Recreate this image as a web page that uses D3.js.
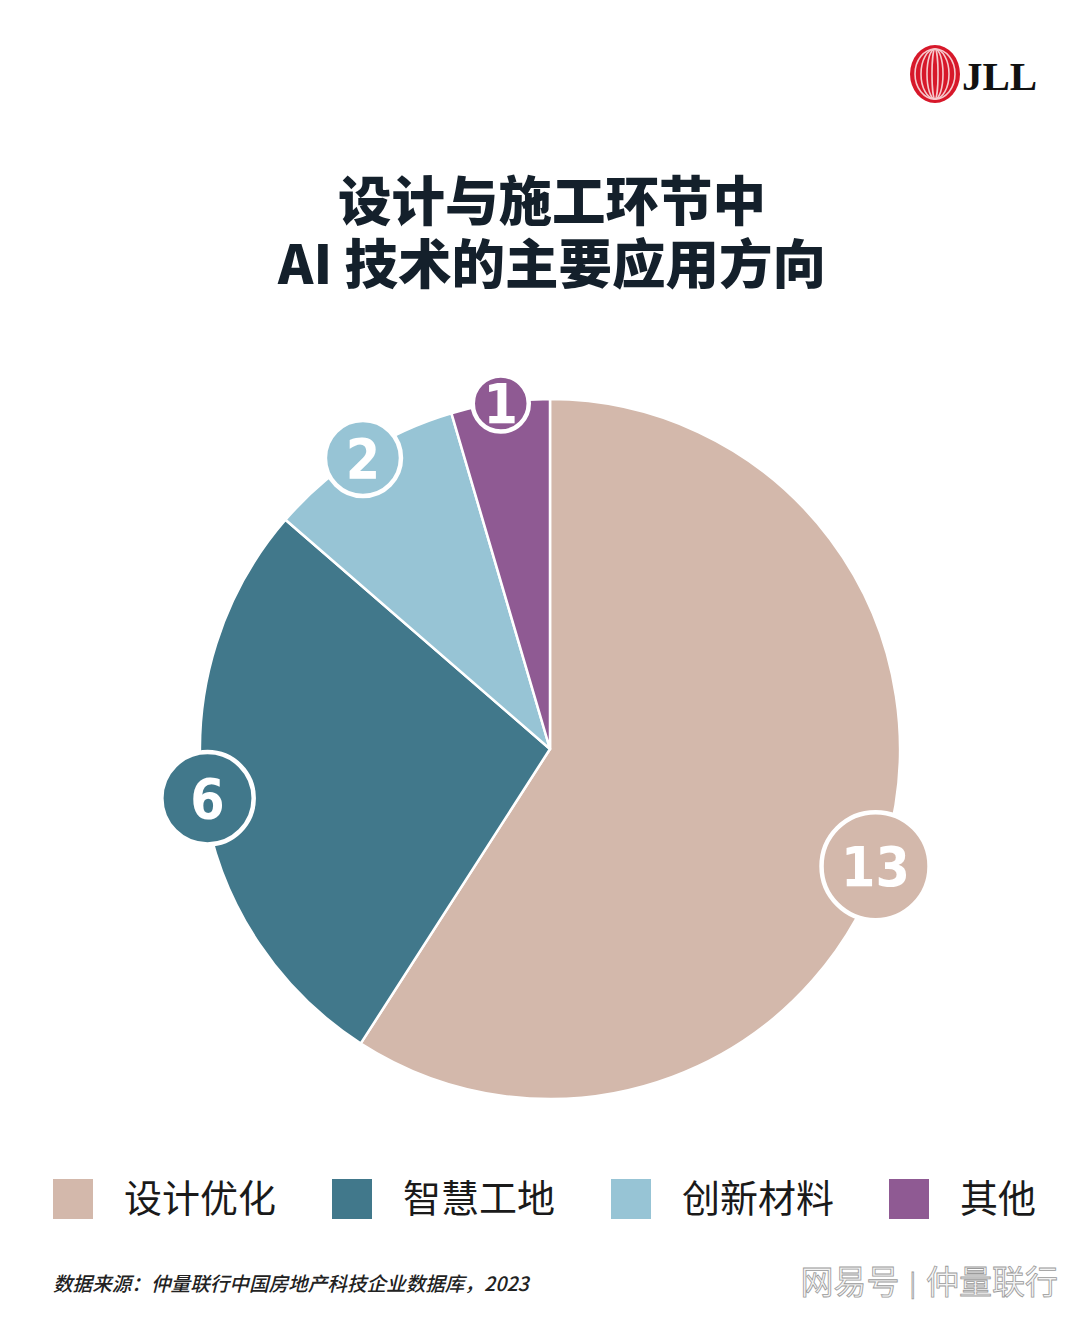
<!DOCTYPE html>
<html><head><meta charset="utf-8">
<script src="https://cdn.jsdelivr.net/npm/d3@7/dist/d3.min.js"></script>
<style>body{margin:0;background:#fff}svg{display:block}</style>
</head><body>
<svg id="c" width="1080" height="1319"></svg>
<script>
const categories = ["设计优化", "智慧工地", "创新材料", "其他"];
const values = [13, 6, 2, 1];
const colors = ["#D3B8AB", "#41788B", "#97C4D5", "#8F5A93"];
const titleLines = ["设计与施工环节中", "AI 技术的主要应用方向"];
const sourceText = "数据来源：仲量联行中国房地产科技企业数据库，2023";
const watermarkParts = ["网易号", "|", "仲量联行"];

const svg = d3.select("#c");
svg.append("rect").attr("width",1080).attr("height",1319).attr("fill","#fff");

// Logo
const logo = svg.append("g").attr("transform","translate(935,74)");
logo.append("ellipse").attr("rx",25).attr("ry",29).attr("fill","#D7182A");
[20,14,8,3].forEach(r=>{
  logo.append("ellipse").attr("rx",r).attr("ry",25).attr("fill","none")
    .attr("stroke","#F6C9CC").attr("stroke-width",1.6);
});
svg.append("text").attr("x",962).attr("y",90)
  .attr("font-family","Liberation Serif").attr("font-weight","bold")
  .attr("font-size",41).attr("fill","#111").text("JLL");

// Title (one text element, two lines)
const title = svg.append("text")
  .attr("text-anchor","middle")
  .attr("font-family","Noto Sans CJK SC").attr("font-weight",800)
  .attr("font-size",53.5).attr("fill","#14202B");
title.selectAll("tspan").data(titleLines).join("tspan")
  .attr("x",552).attr("y",(d,i)=>221+i*63).text(d=>d);

// Pie
const cx = 550, cy = 749, R = 350;
const pie = d3.pie().sort(null).value(d=>d);
const arcs = pie(values);
const arc = d3.arc().innerRadius(0).outerRadius(R);
const g = svg.append("g").attr("transform",`translate(${cx},${cy})`);
g.selectAll("path").data(arcs).join("path")
  .attr("d",arc).attr("fill",(d,i)=>colors[i])
  .attr("stroke","#fff").attr("stroke-width",2.5).attr("stroke-linejoin","round");

const rScale = d3.scaleLog().domain([1,13]).range([28,54]);
const labelR = 346;
const lab = g.selectAll("g.lab").data(arcs).join("g").attr("class","lab")
  .attr("transform",(d,i)=>{
    const a = (d.startAngle+d.endAngle)/2 + (i===0?0.06:0);
    return `translate(${labelR*Math.sin(a)},${-labelR*Math.cos(a) - (i===3?3:0)})`;
  });
lab.append("circle").attr("r",d=>rScale(d.value)+ (d.value===2?3:0))
  .attr("fill",(d,i)=>colors[i]).attr("stroke","#fff").attr("stroke-width",4.5);
lab.append("text").attr("text-anchor","middle").attr("dy","0.36em")
  .attr("font-family","DejaVu Sans Condensed, DejaVu Sans").attr("font-weight","bold")
  .attr("font-size",55).attr("fill","#fff").text(d=>d.value);

// Legend
const legX = [53, 332, 611, 889];
const leg = svg.selectAll("g.leg").data(categories).join("g").attr("class","leg")
  .attr("transform",(d,i)=>`translate(${legX[i]},1179)`);
leg.append("rect").attr("width",40).attr("height",40).attr("fill",(d,i)=>colors[i]);
leg.append("text").attr("x",71).attr("y",33)
  .attr("font-family","Noto Sans CJK SC").attr("font-size",38)
  .attr("fill","#1a1a1a").text(d=>d);

// Source
svg.append("text").attr("x",53).attr("y",1291)
  .attr("font-family","Noto Sans CJK SC").attr("font-style","italic")
  .attr("font-weight",500)
  .attr("font-size",19.6).attr("fill","#222").text(sourceText);

// Watermark
const wm = svg.append("text").attr("x",1058).attr("y",1294).attr("text-anchor","end")
  .attr("font-family","Noto Sans CJK SC").attr("font-size",33)
  .attr("fill","#f4f4f4").attr("stroke","#9a9a9a").attr("stroke-width",0.8);
wm.append("tspan").text(watermarkParts[0]);
wm.append("tspan").attr("dx",10).attr("font-size",24).attr("dy",-2).text(watermarkParts[1]);
wm.append("tspan").attr("dx",10).attr("dy",2).text(watermarkParts[2]);
</script>
</body></html>
